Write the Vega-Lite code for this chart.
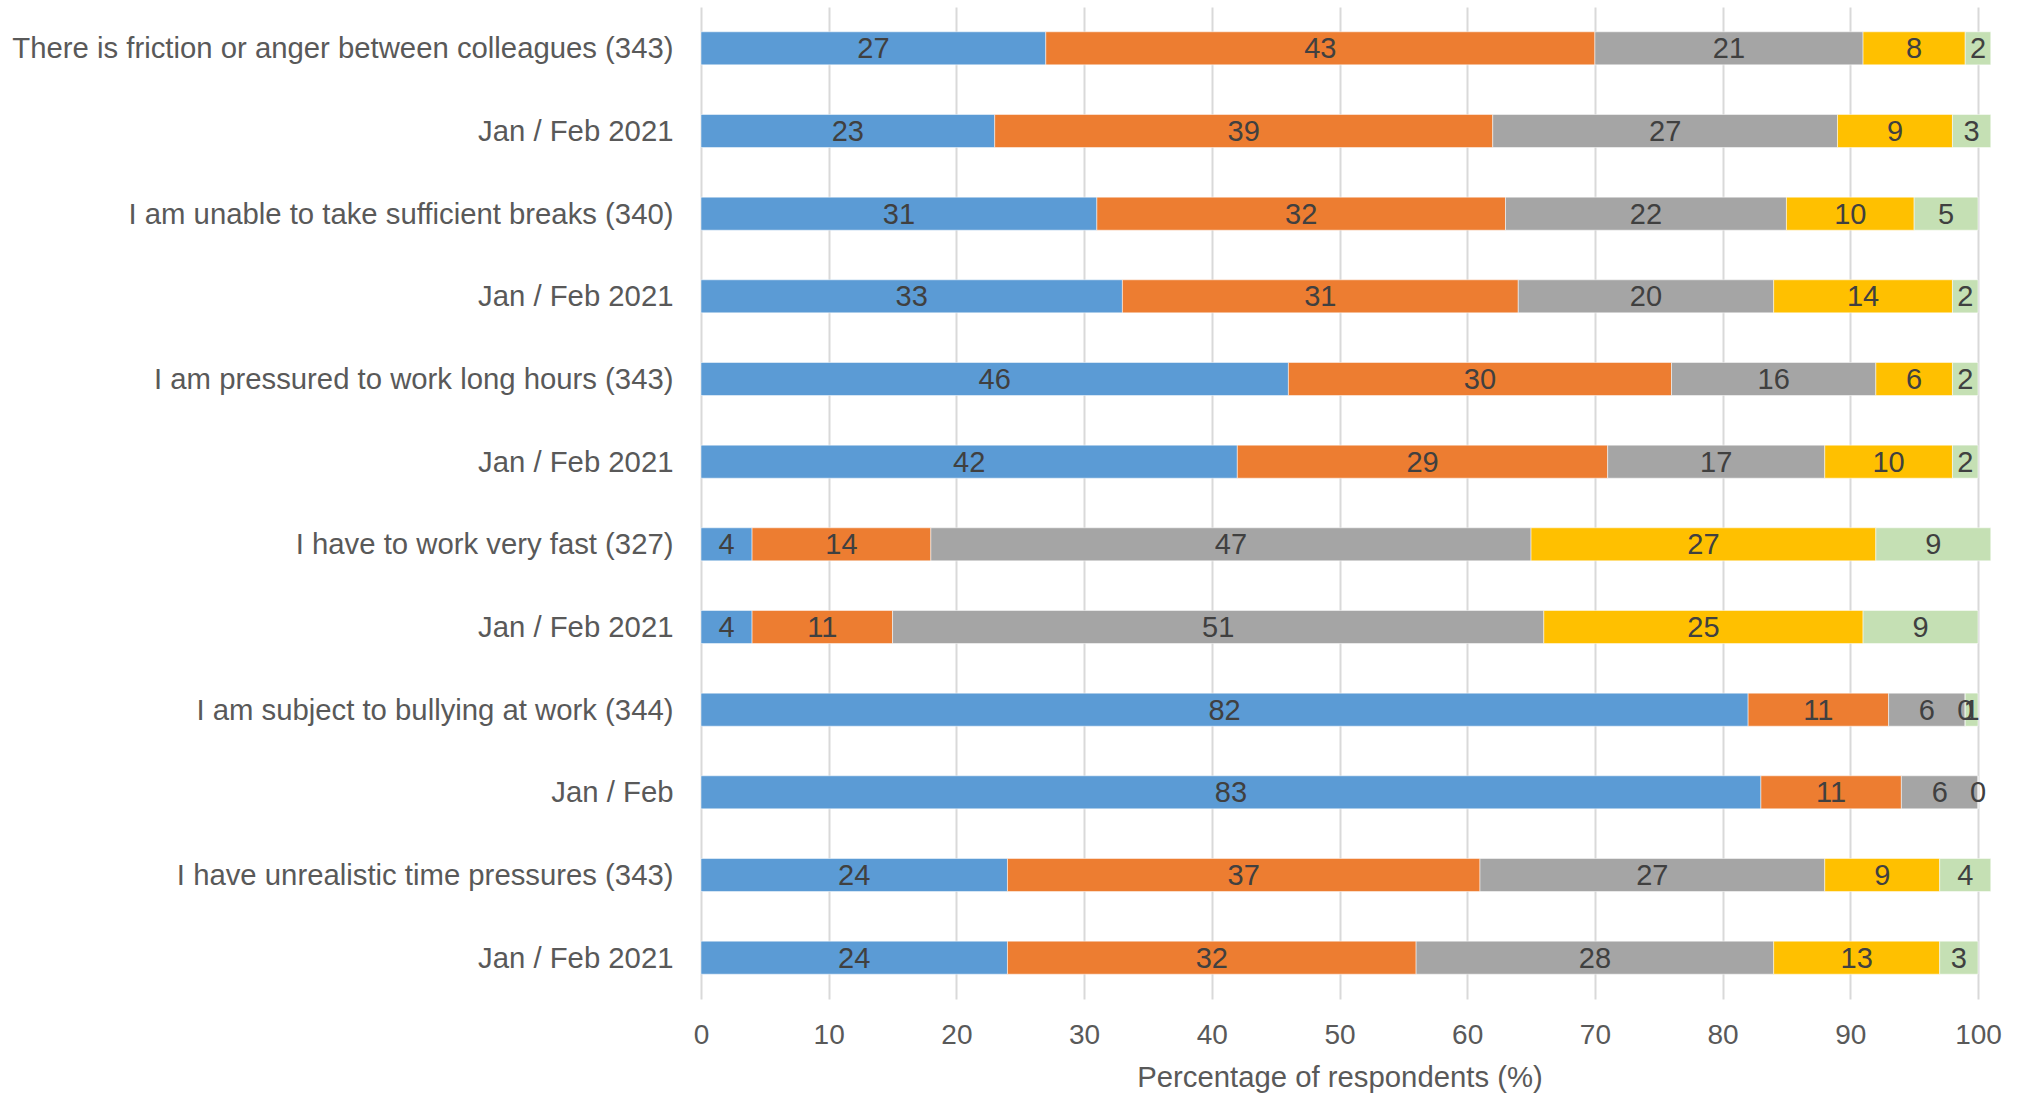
{
  "$schema": "https://vega.github.io/schema/vega-lite/v6.json",
  "autosize": {"type": "none"},
  "width": 1277,
  "height": 992,
  "padding": {"left": 701, "top": 7, "right": 51, "bottom": 96},
  "background": "#ffffff",
  "config": {
    "font": "Liberation Sans",
    "view": {"stroke": null}
  },
  "data": {
    "values": [
      {"key": "01 There is friction or anger between colleagues (343)", "response": "Never", "order": 1, "pct": 27},
      {"key": "01 There is friction or anger between colleagues (343)", "response": "Rarely", "order": 2, "pct": 43},
      {"key": "01 There is friction or anger between colleagues (343)", "response": "Sometimes", "order": 3, "pct": 21},
      {"key": "01 There is friction or anger between colleagues (343)", "response": "Often", "order": 4, "pct": 8},
      {"key": "01 There is friction or anger between colleagues (343)", "response": "Always", "order": 5, "pct": 2},
      {"key": "02 Jan / Feb 2021", "response": "Never", "order": 1, "pct": 23},
      {"key": "02 Jan / Feb 2021", "response": "Rarely", "order": 2, "pct": 39},
      {"key": "02 Jan / Feb 2021", "response": "Sometimes", "order": 3, "pct": 27},
      {"key": "02 Jan / Feb 2021", "response": "Often", "order": 4, "pct": 9},
      {"key": "02 Jan / Feb 2021", "response": "Always", "order": 5, "pct": 3},
      {"key": "03 I am unable to take sufficient breaks (340)", "response": "Never", "order": 1, "pct": 31},
      {"key": "03 I am unable to take sufficient breaks (340)", "response": "Rarely", "order": 2, "pct": 32},
      {"key": "03 I am unable to take sufficient breaks (340)", "response": "Sometimes", "order": 3, "pct": 22},
      {"key": "03 I am unable to take sufficient breaks (340)", "response": "Often", "order": 4, "pct": 10},
      {"key": "03 I am unable to take sufficient breaks (340)", "response": "Always", "order": 5, "pct": 5},
      {"key": "04 Jan / Feb 2021", "response": "Never", "order": 1, "pct": 33},
      {"key": "04 Jan / Feb 2021", "response": "Rarely", "order": 2, "pct": 31},
      {"key": "04 Jan / Feb 2021", "response": "Sometimes", "order": 3, "pct": 20},
      {"key": "04 Jan / Feb 2021", "response": "Often", "order": 4, "pct": 14},
      {"key": "04 Jan / Feb 2021", "response": "Always", "order": 5, "pct": 2},
      {"key": "05 I am pressured to work long hours (343)", "response": "Never", "order": 1, "pct": 46},
      {"key": "05 I am pressured to work long hours (343)", "response": "Rarely", "order": 2, "pct": 30},
      {"key": "05 I am pressured to work long hours (343)", "response": "Sometimes", "order": 3, "pct": 16},
      {"key": "05 I am pressured to work long hours (343)", "response": "Often", "order": 4, "pct": 6},
      {"key": "05 I am pressured to work long hours (343)", "response": "Always", "order": 5, "pct": 2},
      {"key": "06 Jan / Feb 2021", "response": "Never", "order": 1, "pct": 42},
      {"key": "06 Jan / Feb 2021", "response": "Rarely", "order": 2, "pct": 29},
      {"key": "06 Jan / Feb 2021", "response": "Sometimes", "order": 3, "pct": 17},
      {"key": "06 Jan / Feb 2021", "response": "Often", "order": 4, "pct": 10},
      {"key": "06 Jan / Feb 2021", "response": "Always", "order": 5, "pct": 2},
      {"key": "07 I have to work very fast (327)", "response": "Never", "order": 1, "pct": 4},
      {"key": "07 I have to work very fast (327)", "response": "Rarely", "order": 2, "pct": 14},
      {"key": "07 I have to work very fast (327)", "response": "Sometimes", "order": 3, "pct": 47},
      {"key": "07 I have to work very fast (327)", "response": "Often", "order": 4, "pct": 27},
      {"key": "07 I have to work very fast (327)", "response": "Always", "order": 5, "pct": 9},
      {"key": "08 Jan / Feb 2021", "response": "Never", "order": 1, "pct": 4},
      {"key": "08 Jan / Feb 2021", "response": "Rarely", "order": 2, "pct": 11},
      {"key": "08 Jan / Feb 2021", "response": "Sometimes", "order": 3, "pct": 51},
      {"key": "08 Jan / Feb 2021", "response": "Often", "order": 4, "pct": 25},
      {"key": "08 Jan / Feb 2021", "response": "Always", "order": 5, "pct": 9},
      {"key": "09 I am subject to bullying at work (344)", "response": "Never", "order": 1, "pct": 82},
      {"key": "09 I am subject to bullying at work (344)", "response": "Rarely", "order": 2, "pct": 11},
      {"key": "09 I am subject to bullying at work (344)", "response": "Sometimes", "order": 3, "pct": 6},
      {"key": "09 I am subject to bullying at work (344)", "response": "Often", "order": 4, "pct": 0},
      {"key": "09 I am subject to bullying at work (344)", "response": "Always", "order": 5, "pct": 1},
      {"key": "10 Jan / Feb", "response": "Never", "order": 1, "pct": 83},
      {"key": "10 Jan / Feb", "response": "Rarely", "order": 2, "pct": 11},
      {"key": "10 Jan / Feb", "response": "Sometimes", "order": 3, "pct": 6},
      {"key": "10 Jan / Feb", "response": "Often", "order": 4, "pct": 0},
      {"key": "11 I have unrealistic time pressures (343)", "response": "Never", "order": 1, "pct": 24},
      {"key": "11 I have unrealistic time pressures (343)", "response": "Rarely", "order": 2, "pct": 37},
      {"key": "11 I have unrealistic time pressures (343)", "response": "Sometimes", "order": 3, "pct": 27},
      {"key": "11 I have unrealistic time pressures (343)", "response": "Often", "order": 4, "pct": 9},
      {"key": "11 I have unrealistic time pressures (343)", "response": "Always", "order": 5, "pct": 4},
      {"key": "12 Jan / Feb 2021", "response": "Never", "order": 1, "pct": 24},
      {"key": "12 Jan / Feb 2021", "response": "Rarely", "order": 2, "pct": 32},
      {"key": "12 Jan / Feb 2021", "response": "Sometimes", "order": 3, "pct": 28},
      {"key": "12 Jan / Feb 2021", "response": "Often", "order": 4, "pct": 13},
      {"key": "12 Jan / Feb 2021", "response": "Always", "order": 5, "pct": 3}
    ]
  },
  "encoding": {
    "y": {
      "field": "key",
      "type": "nominal",
      "sort": "ascending",
      "scale": {"paddingInner": 0.6, "paddingOuter": 0.3},
      "axis": {
        "title": null,
        "labelExpr": "substring(datum.value, 3)",
        "labelFontSize": 29.3,
        "labelColor": "#595959",
        "labelPadding": 28,
        "labelLimit": 800,
        "labelOffset": 1,
        "ticks": false,
        "domain": false,
        "grid": false
      }
    }
  },
  "layer": [
    {
      "mark": {"type": "bar", "stroke": "#ffffff", "strokeWidth": 1, "strokeOpacity": 0.5},
      "encoding": {
        "x": {
          "field": "pct",
          "type": "quantitative",
          "stack": "zero",
          "scale": {"domain": [0, 100], "nice": false},
          "axis": {
            "title": "Percentage of respondents (%)",
            "titleFontSize": 29.3,
            "titleFontWeight": "normal",
            "titleColor": "#595959",
            "titlePadding": 14,
            "values": [0, 10, 20, 30, 40, 50, 60, 70, 80, 90, 100],
            "labelFontSize": 28,
            "labelColor": "#595959",
            "labelPadding": 22,
            "labelFlush": false,
            "ticks": false,
            "domain": false,
            "grid": true,
            "gridColor": "#d9d9d9",
            "gridWidth": 2
          }
        },
        "color": {
          "field": "response",
          "type": "nominal",
          "scale": {
            "domain": ["Never", "Rarely", "Sometimes", "Often", "Always"],
            "range": ["#5b9bd5", "#ed7d31", "#a5a5a5", "#ffc000", "#c5e0b4"]
          },
          "legend": null
        },
        "order": {"field": "order", "type": "quantitative"}
      }
    },
    {
      "mark": {"type": "text", "fontSize": 29, "color": "#404040", "align": "center", "baseline": "middle", "dy": 1},
      "encoding": {
        "x": {"field": "pct", "type": "quantitative", "stack": "zero", "bandPosition": 0.5},
        "text": {"field": "pct", "type": "quantitative"},
        "order": {"field": "order", "type": "quantitative"}
      }
    }
  ]
}
